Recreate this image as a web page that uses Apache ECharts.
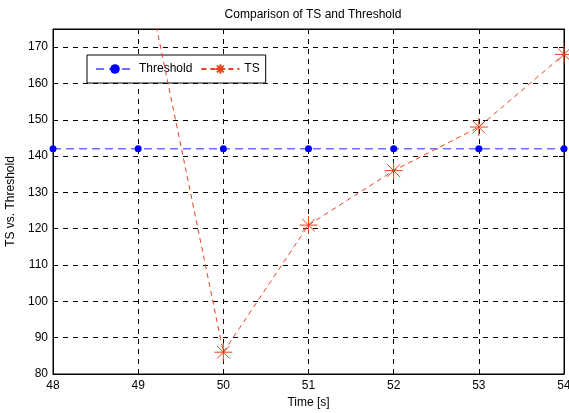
<!DOCTYPE html>
<html>
<head>
<meta charset="utf-8">
<script src="https://cdn.jsdelivr.net/npm/echarts@6/dist/echarts.min.js"></script>
<style>
  html, body { margin: 0; padding: 0; background: #fff; }
  #chart { width: 569px; height: 413px; }
</style>
</head>
<body>
<div id="chart"></div>
<script>
// values
const times = [48, 49, 50, 51, 52, 53, 54]
const thresholdValues = [142, 142, 142, 142, 142, 142, 142]
const tsValues = [null, 200, 86, 121, 136, 148, 168]
const yTicks = { min: 80, max: 175, step: 10 }

const pairs = (ys) => times.map((t, i) => [t, ys[i]])
const starPath = 'path://M0,-10L0,10M-10,0L10,0M-7,-7L7,7M-7,7L7,-7'

const chart = echarts.init(document.getElementById('chart'))
const font = 'Liberation Sans, Arial, sans-serif'
const dashedGrid = { show: true, lineStyle: { color: '#000', type: [5, 5], width: 1 } }

let option = {
  animation: false,
  backgroundColor: '#fff',
  textStyle: { fontFamily: font },
  title: {
    text: 'Comparison of TS and Threshold',
    left: 308,
    top: 4,
    textAlign: 'center',
    textStyle: { fontSize: 12, fontWeight: 'normal', color: '#000', fontFamily: font }
  },
  legend: {
    orient: 'horizontal',
    left: 87,
    top: 55,
    padding: [8, 6, 8, 8],
    itemGap: 8,
    itemWidth: 38,
    itemHeight: 12,
    borderColor: '#000',
    borderWidth: 1,
    borderRadius: 0,
    backgroundColor: '#fff',
    textStyle: { fontSize: 12, color: '#000', fontFamily: font },
    data: ['Threshold', 'TS']
  },
  grid: {
    left: 53,
    right: 5,
    top: 29,
    bottom: 39,
    outerBoundsMode: 'none',
    show: true,
    borderColor: '#000',
    borderWidth: 1
  },
  xAxis: [
    {
      type: 'value',
      min: 48,
      max: 54,
      interval: 1,
      name: 'Time [s]',
      nameLocation: 'middle',
      nameGap: 23,
      nameTextStyle: { fontSize: 12, color: '#000', fontFamily: font },
      axisLine: { show: true, lineStyle: { color: '#000' } },
      axisTick: { show: true, inside: true, length: 5, lineStyle: { color: '#000' } },
      axisLabel: { fontSize: 12, color: '#000', margin: 6, fontFamily: font },
      splitLine: dashedGrid
    },
    {
      type: 'value',
      position: 'top',
      min: 48,
      max: 54,
      interval: 1,
      axisLine: { show: true, lineStyle: { color: '#000' } },
      axisTick: { show: true, inside: true, length: 5, lineStyle: { color: '#000' } },
      axisLabel: { show: false },
      splitLine: { show: false }
    }
  ],
  yAxis: [
    {
      type: 'value',
      min: yTicks.min,
      max: yTicks.max,
      interval: yTicks.step,
      name: 'TS vs. Threshold',
      nameLocation: 'middle',
      nameGap: 22,
      nameTextStyle: { fontSize: 12, color: '#000', fontFamily: font },
      axisLine: { show: true, lineStyle: { color: '#000' } },
      axisTick: { show: true, inside: true, length: 5, lineStyle: { color: '#000' } },
      axisLabel: { fontSize: 12, color: '#000', margin: 5, showMaxLabel: false, fontFamily: font },
      splitLine: dashedGrid
    },
    {
      type: 'value',
      position: 'right',
      min: yTicks.min,
      max: yTicks.max,
      interval: yTicks.step,
      axisLine: { show: true, lineStyle: { color: '#000' } },
      axisTick: { show: true, inside: true, length: 5, lineStyle: { color: '#000' } },
      axisLabel: { show: false },
      splitLine: { show: false }
    }
  ],
  series: [
    {
      name: 'Threshold',
      type: 'line',
      data: pairs(thresholdValues),
      symbol: 'circle',
      symbolSize: 7,
      itemStyle: { color: '#0000ff' },
      lineStyle: { color: '#6f6fff', width: 1.5, type: [8, 5] },
      z: 3
    },
    {
      name: 'TS',
      type: 'line',
      data: pairs(tsValues),
      connectNulls: false,
      symbol: starPath,
      symbolSize: 18,
      itemStyle: { color: 'rgba(0,0,0,0)', borderColor: '#e8431e', borderWidth: 1 },
      lineStyle: { color: '#e8431e', width: 1, type: [5, 4] },
      z: 4
    }
  ]
}
chart.setOption(option)
</script>
</body>
</html>
